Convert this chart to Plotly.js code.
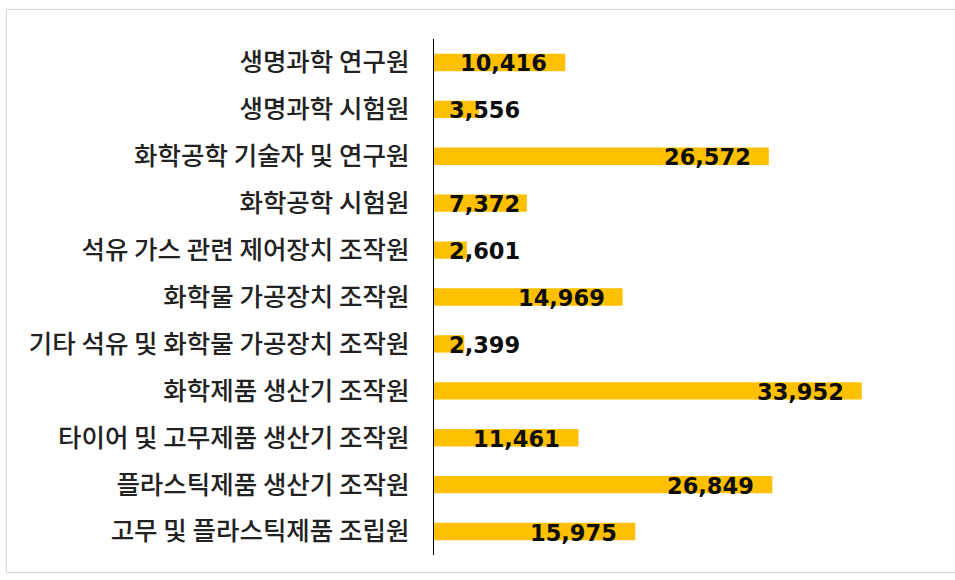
<!DOCTYPE html>
<html><head><meta charset="utf-8">
<script src="https://cdn.plot.ly/plotly-3.0.1.min.js"></script>
<style>
html,body{margin:0;padding:0;background:#fff;}
#frame{position:absolute;left:6px;top:9px;width:960px;height:562px;border:1px solid #d9d9d9;box-shadow:0 0 2px #e6e6e6;}
#chart{position:absolute;left:0;top:0;width:955px;height:580px;}
</style></head>
<body>
<div id="frame"></div>
<div id="chart"></div>
<script>
const categories = [
  "생명과학 연구원",
  "생명과학 시험원",
  "화학공학 기술자 및 연구원",
  "화학공학 시험원",
  "석유 가스 관련 제어장치 조작원",
  "화학물 가공장치 조작원",
  "기타 석유 및 화학물 가공장치 조작원",
  "화학제품 생산기 조작원",
  "타이어 및 고무제품 생산기 조작원",
  "플라스틱제품 생산기 조작원",
  "고무 및 플라스틱제품 조립원"
];
const values = [10416, 3556, 26572, 7372, 2601, 14969, 2399, 33952, 11461, 26849, 15975];
const valueLabels = values.map(v => v.toLocaleString('en-US'));

const trace = {
  type: 'bar',
  orientation: 'h',
  y: categories,
  x: values,
  marker: {color: '#FFC000'},
  hoverinfo: 'none'
};

const annotations = values.map((v, i) => ({
  x: Math.max(v, 8250),
  y: categories[i],
  xref: 'x', yref: 'y',
  text: valueLabels[i],
  showarrow: false,
  xanchor: 'right',
  yanchor: 'middle',
  xshift: -16,
  yshift: -1,
  font: {family: 'DejaVu Sans', size: 22.5, color: '#0d0d0d', weight: 'bold'}
}));

const layout = {
  width: 955, height: 580,
  paper_bgcolor: 'rgba(0,0,0,0)',
  plot_bgcolor: 'rgba(0,0,0,0)',
  margin: {l: 434, r: 17, t: 39, b: 25},
  showlegend: false,
  bargap: 0.63,
  xaxis: {
    range: [0, 40000],
    visible: false,
    showgrid: false,
    zeroline: false
  },
  yaxis: {
    autorange: 'reversed',
    showline: true,
    linecolor: '#000000',
    linewidth: 1.5,
    ticks: '',
    showgrid: false,
    ticklabelstandoff: 18,
    tickfont: {family: 'Noto Sans CJK KR', size: 25.5, color: '#222222', weight: 500}
  },
  annotations: annotations
};

Plotly.newPlot('chart', [trace], layout, {displayModeBar: false, staticPlot: true});
</script>
</body></html>
